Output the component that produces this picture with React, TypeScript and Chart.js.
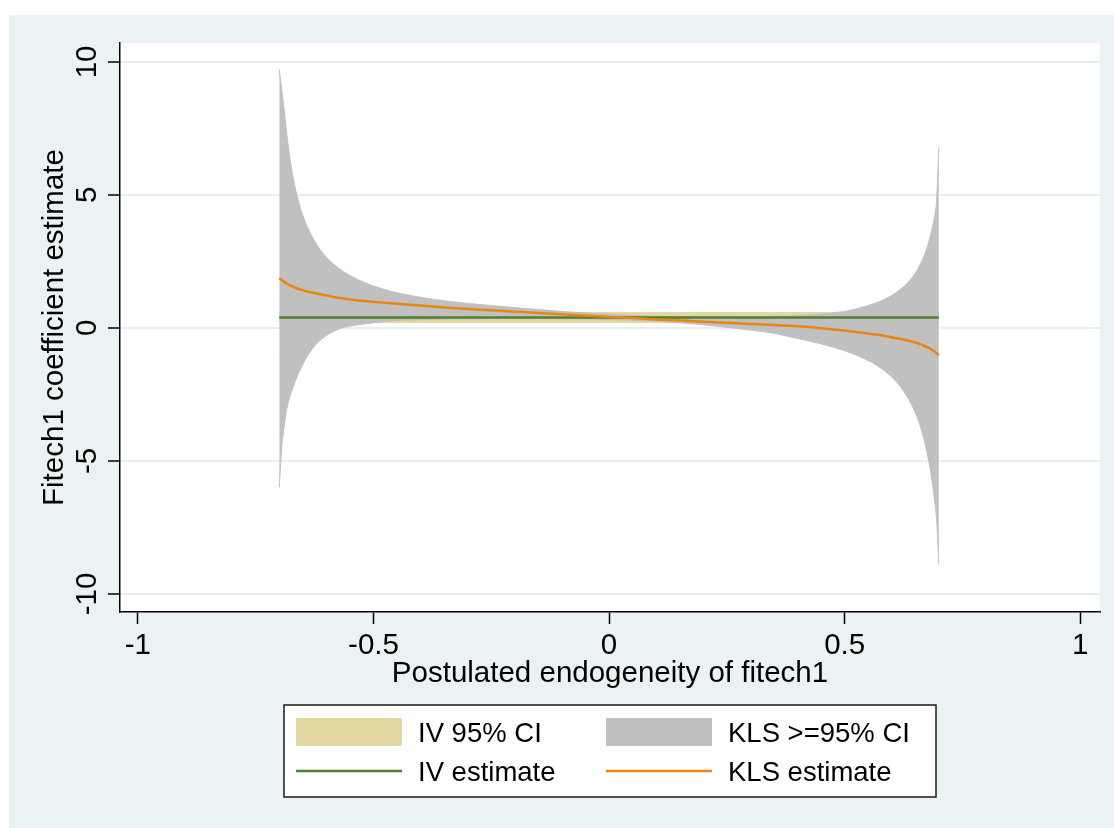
import React, { useEffect, useRef } from "react";
import { Chart, registerables } from "chart.js";

Chart.register(...registerables);

// ---------- data ----------
const RHO = [
  -0.7, -0.695, -0.69, -0.685, -0.68, -0.67, -0.66, -0.65, -0.64, -0.62, -0.6, -0.575, -0.55, -0.52,
  -0.48, -0.45, -0.4, -0.35, -0.3, -0.25, -0.2, -0.15, -0.1, -0.05, 0, 0.05, 0.1, 0.15, 0.2, 0.25,
  0.3, 0.35, 0.4, 0.45, 0.5, 0.54, 0.57, 0.6, 0.62, 0.64, 0.65, 0.66, 0.67, 0.68, 0.685, 0.69,
  0.695, 0.7,
];
const KLS_EST = [
  1.87, 1.8, 1.74, 1.68, 1.63, 1.54, 1.47, 1.42, 1.37, 1.29, 1.22, 1.13, 1.07, 1.01,
  0.95, 0.91, 0.84, 0.77, 0.71, 0.66, 0.61, 0.56, 0.51, 0.46, 0.41, 0.37, 0.32, 0.28, 0.23, 0.19,
  0.15, 0.11, 0.06, -0.01, -0.1, -0.19, -0.26, -0.35, -0.42, -0.5, -0.55, -0.61, -0.68, -0.77, -0.82, -0.88,
  -0.95, -1.03,
];
const KLS_HI = [
  9.7, 9.0, 8.25, 7.45, 6.72, 5.6, 4.82, 4.23, 3.78, 3.12, 2.66, 2.26, 1.97, 1.71,
  1.46, 1.32, 1.15, 1.02, 0.92, 0.84, 0.76, 0.69, 0.62, 0.56, 0.51, 0.47, 0.44, 0.42, 0.41, 0.41,
  0.42, 0.43, 0.46, 0.52, 0.62, 0.79, 0.96, 1.22, 1.47, 1.82, 2.06, 2.37, 2.77, 3.32, 3.68, 4.12,
  4.75, 6.8,
];
const KLS_LO = [
  -6.0, -4.55, -3.75, -3.15, -2.75, -2.2, -1.74, -1.37, -1.05, -0.58, -0.29, -0.05, 0.07, 0.15,
  0.23, 0.28, 0.31, 0.33, 0.34, 0.35, 0.35, 0.35, 0.34, 0.33, 0.31, 0.29, 0.25, 0.19, 0.12, 0.02,
  -0.08, -0.2, -0.4, -0.6, -0.86, -1.14, -1.43, -1.85, -2.25, -2.81, -3.19, -3.67, -4.3, -5.14, -5.69, -6.35,
  -7.17, -8.9,
];
const IV_RHO = [-0.7, 0.7];
const IV_EST = [0.39, 0.39];
const IV_LO = [0.2, 0.2];
const IV_HI = [0.58, 0.58];

const X_TICKS = [-1, -0.5, 0, 0.5, 1];
const Y_TICKS = [-10, -5, 0, 5, 10];
const X_TITLE = "Postulated endogeneity of fitech1";
const Y_TITLE = "Fitech1 coefficient estimate";
const LEGEND_LABELS = ["IV 95% CI", "KLS >=95% CI", "IV estimate", "KLS estimate"];

// ---------- style ----------
const FONT = "'Liberation Sans', Arial, Helvetica, sans-serif";
const BG = "#EAF2F3";
const GRID = "#E6EFF1";
const GRAY = "#C0C0C0";
const TAN = "#E4D8A2";
const GREEN = "#52802E";
const ORANGE = "#E8870F";

const toXY = (xs: number[], ys: number[]) => xs.map((x, i) => ({ x, y: ys[i] }));

const bgPlugin = {
  id: "stataBg",
  beforeDraw(chart: any) {
    const { ctx, chartArea, width, height } = chart;
    ctx.save();
    ctx.fillStyle = BG;
    ctx.fillRect(0, 0, width, height);
    ctx.fillStyle = "#ffffff";
    ctx.fillRect(chartArea.left, chartArea.top, chartArea.right - chartArea.left, chartArea.bottom - chartArea.top);
    ctx.restore();
  },
};

const legendPlugin = {
  id: "stataLegend",
  afterDraw(chart: any) {
    const { ctx } = chart;
    const box = { l: 275, t: 690, r: 927, b: 782 };
    ctx.save();
    ctx.fillStyle = "#ffffff";
    ctx.fillRect(box.l, box.t, box.r - box.l, box.b - box.t);
    ctx.strokeStyle = "#1a1a1a";
    ctx.lineWidth = 1.5;
    ctx.strokeRect(box.l, box.t, box.r - box.l, box.b - box.t);

    const cols = [287, 597];
    const swW = 106;
    const items = [
      { kind: "box", color: TAN, label: LEGEND_LABELS[0], col: 0, row: 0 },
      { kind: "box", color: GRAY, label: LEGEND_LABELS[1], col: 1, row: 0 },
      { kind: "line", color: GREEN, label: LEGEND_LABELS[2], col: 0, row: 1 },
      { kind: "line", color: ORANGE, label: LEGEND_LABELS[3], col: 1, row: 1 },
    ];
    const baselines = [727.3, 765.7];
    ctx.font = `27.5px ${FONT}`;
    ctx.textBaseline = "alphabetic";
    ctx.textAlign = "left";
    for (const it of items) {
      const x0 = cols[it.col];
      if (it.kind === "box") {
        ctx.fillStyle = it.color;
        ctx.fillRect(x0, 703, swW, 28);
      } else {
        ctx.strokeStyle = it.color;
        ctx.lineWidth = 2.5;
        ctx.beginPath();
        ctx.moveTo(x0, 756);
        ctx.lineTo(x0 + swW, 756);
        ctx.stroke();
      }
      ctx.fillStyle = "#000000";
      ctx.fillText(it.label, x0 + swW + 16, baselines[it.row]);
    }
    ctx.restore();
  },
};

export default function App() {
  const ref = useRef<HTMLCanvasElement | null>(null);

  useEffect(() => {
    if (!ref.current) return;
    const lineBase = { pointRadius: 0, pointHoverRadius: 0, cubicInterpolationMode: "monotone" };
    const chart = new Chart(ref.current, {
      type: "line",
      data: {
        datasets: [
          { ...lineBase, label: LEGEND_LABELS[3], data: toXY(RHO, KLS_EST), borderColor: ORANGE, borderWidth: 2.5, fill: false },
          { ...lineBase, label: LEGEND_LABELS[2], data: toXY(IV_RHO, IV_EST), borderColor: GREEN, borderWidth: 2.5, fill: false },
          { ...lineBase, label: LEGEND_LABELS[1], data: toXY(RHO, KLS_HI), borderColor: GRAY, borderWidth: 1, backgroundColor: GRAY, fill: "+1" },
          { ...lineBase, label: "KLS lower", data: toXY(RHO, KLS_LO), borderColor: GRAY, borderWidth: 1, fill: false },
          { ...lineBase, label: LEGEND_LABELS[0], data: toXY(IV_RHO, IV_HI), borderColor: TAN, borderWidth: 1, backgroundColor: TAN, fill: "+1" },
          { ...lineBase, label: "IV lower", data: toXY(IV_RHO, IV_LO), borderColor: TAN, borderWidth: 1, fill: false },
        ] as any,
      },
      options: {
        animation: false,
        responsive: false,
        maintainAspectRatio: false,
        devicePixelRatio: 1,
        events: [],
        layout: { padding: { left: 0, top: 28, right: 14, bottom: 126 } },
        plugins: {
          legend: { display: false },
          tooltip: { enabled: false },
          title: { display: false },
        },
        scales: {
          x: {
            type: "linear",
            min: -1.038,
            max: 1.042,
            afterBuildTicks: (s: any) => {
              s.ticks = X_TICKS.map((v) => ({ value: v }));
            },
            afterFit: (s: any) => {
              s.height = 90;
            },
            border: { display: true, color: "#000", width: 1.5 },
            grid: { drawOnChartArea: false, drawTicks: true, tickLength: 12, tickColor: "#000", tickWidth: 1.5 },
            ticks: {
              color: "#000",
              font: { family: FONT, size: 29.5 },
              padding: 4,
              maxRotation: 0,
              minRotation: 0,
              autoSkip: false,
              callback: (v: any) => String(v),
            },
            title: {
              display: true,
              text: X_TITLE,
              color: "#000",
              font: { family: FONT, size: 29.5 },
              padding: { top: 0, bottom: 10.5 },
            },
          },
          y: {
            type: "linear",
            min: -10.68,
            max: 10.71,
            afterBuildTicks: (s: any) => {
              s.ticks = Y_TICKS.map((v) => ({ value: v }));
            },
            afterFit: (s: any) => {
              s.width = 111;
            },
            border: { display: true, color: "#000", width: 1.5 },
            grid: { color: GRID, lineWidth: 2, drawTicks: true, tickLength: 12, tickColor: "#000", tickWidth: 1.5 },
            ticks: {
              color: "#000",
              font: { family: FONT, size: 29.5 },
              padding: -1,
              minRotation: 90,
              maxRotation: 90,
              crossAlign: "center",
              autoSkip: false,
              callback: (v: any) => String(v),
            },
            title: {
              display: true,
              text: Y_TITLE,
              color: "#000",
              font: { family: FONT, size: 29.5 },
              padding: { top: 28, bottom: 0 },
            },
          },
        },
      } as any,
      plugins: [bgPlugin, legendPlugin],
    });
    return () => chart.destroy();
  }, []);

  return (
    <div style={{ position: "fixed", left: 9, top: 15, width: 1105, height: 813, background: BG }}>
      <canvas ref={ref} width={1105} height={813} style={{ display: "block", width: 1105, height: 813 }} />
    </div>
  );
}
